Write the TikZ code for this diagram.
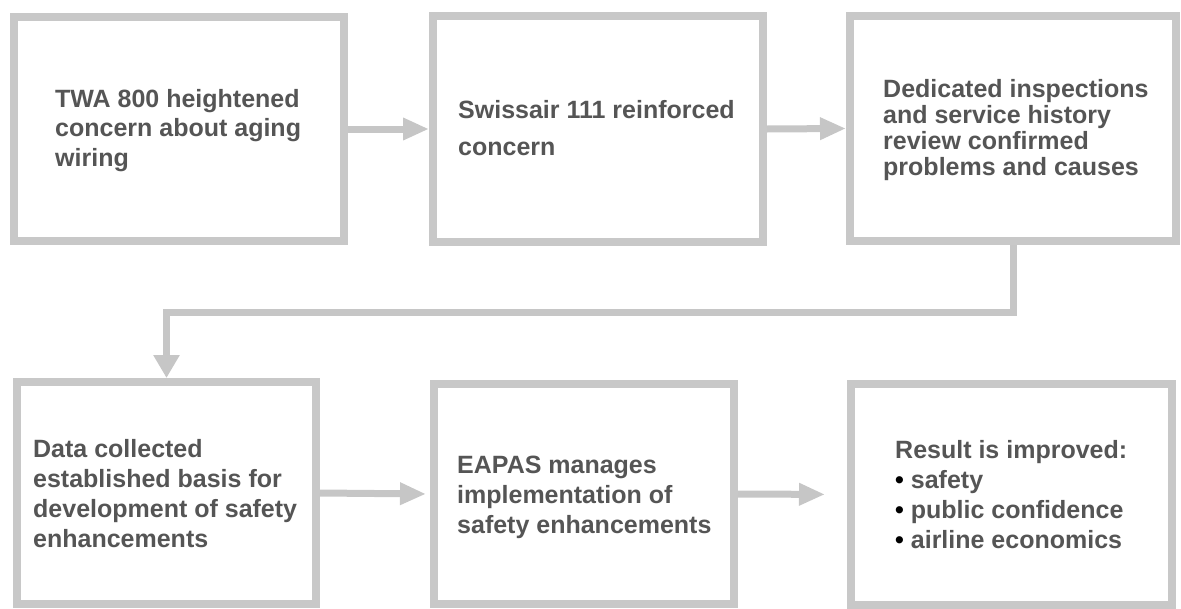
\documentclass[tikz,border=0pt]{standalone}
\usepackage{fontspec}
\setmainfont{Liberation Sans}
\usetikzlibrary{arrows.meta}
\definecolor{boxgray}{HTML}{C8C8C8}
\definecolor{arrgray}{HTML}{C6C6C6}
\definecolor{txtgray}{HTML}{555555}
\begin{document}
\begin{tikzpicture}[x=1pt,y=-1pt,
  box/.style={draw=boxgray,line width=8pt,rectangle,inner sep=0pt,fill=white},
  txt/.style={anchor=base west,align=left,inner sep=0pt,text=txtgray,font=\bfseries\fontsize{25}{#1}\selectfont},
  conn/.style={draw=arrgray,line width=7pt,-{Triangle[length=26pt,width=21pt]}}]
\useasboundingbox (0,0) rectangle (1181,608);
\node[box,minimum width=330pt,minimum height=224pt] (b1) at (179,129) {};
\node[box,minimum width=330pt,minimum height=226pt] (b2) at (598,129) {};
\node[box,minimum width=326pt,minimum height=225pt] (b3) at (1013,128.5) {};
\node[box,minimum width=299pt,minimum height=222pt] (b4) at (166.5,493) {};
\node[box,minimum width=300pt,minimum height=220pt] (b5) at (584,494) {};
\node[box,minimum width=321pt,minimum height=221pt] (b6) at (1011.5,494.5) {};
\node[txt=29.5] (t1) at (55,166) {TWA 800 heightened\\concern about aging\\wiring};
\node[txt=37] (t2) at (458,155) {Swissair 111 reinforced\\concern};
\node[txt=26] (t3) at (883,175) {Dedicated inspections\\and service history\\review confirmed\\problems and causes};
\node[txt=29.7] (t4) at (33,547) {Data collected\\established basis for\\development of safety\\enhancements};
\node[txt=30] (t5) at (457,533) {EAPAS manages\\implementation of\\safety enhancements};
\node[txt=29.7] (t6) at (895,548) {Result is improved:\\{\color{black}•} safety\\{\color{black}•} public confidence\\{\color{black}•} airline economics};
\coordinate (bend) at (1013,312);
\draw[conn] (b1.east) -- (b2.west);
\draw[conn] (b2.east) -- (b3.west);
\draw[draw=arrgray,line width=7pt,-{Triangle[length=23pt,width=25pt]}] (b3.south) -- (bend) -| (b4.north);
\draw[conn,shorten >=4pt] (b4.east) -- (b5.west);
\draw[conn,shorten >=22pt] (b5.east) -- (b6.west);
\end{tikzpicture}
\end{document}
